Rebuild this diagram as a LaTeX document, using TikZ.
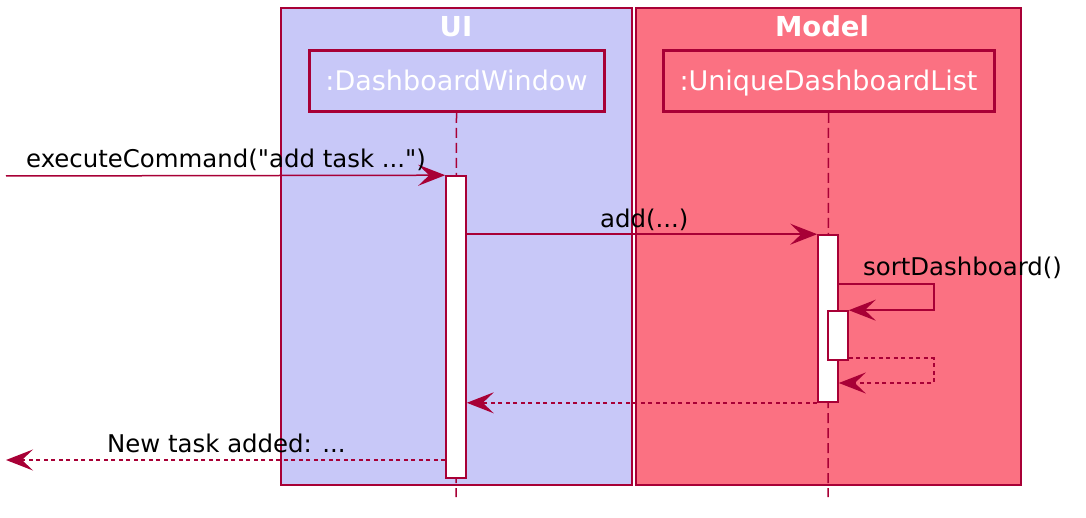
\documentclass[tikz,border=0pt]{standalone}
\usepackage{fontspec}
\setmainfont{DejaVu Sans}[Ligatures=TeXOff]
\usetikzlibrary{arrows.meta}
\definecolor{bord}{HTML}{A80036}
\definecolor{uifill}{HTML}{C8C8F8}
\definecolor{modelfill}{HTML}{FB7182}
\tikzset{
  grp/.style={draw=bord, line width=1.8pt},
  partbox/.style={draw=bord, line width=3pt, minimum height=61pt, inner sep=0pt,
    text=white, font=\fontsize{27}{32}\selectfont, text height=20pt, text depth=0pt},
  grptitle/.style={text=white, font=\fontsize{27.5}{32}\selectfont\bfseries, anchor=base, inner sep=0pt},
  lifeline/.style={draw=bord, line width=1.5pt, dash pattern=on 10pt off 5pt},
  actbar/.style={draw=bord, fill=white, line width=1.6pt, minimum width=20pt, inner sep=0pt},
  msg/.style={draw=bord, line width=1.5pt, -{Stealth[length=27pt, width=21pt, inset=11pt]}},
  ret/.style={msg, dash pattern=on 4pt off 3.5pt},
  msglabel/.style={font=\fontsize{24.4}{29}\selectfont, anchor=base west, inner sep=0pt, text=black},
}
\begin{document}
\begin{tikzpicture}[x=1pt, y=-1pt]
\useasboundingbox (0,0) rectangle (1086,518);
% group boxes
\fill[uifill] (281,8) rectangle (632,485);
\fill[modelfill] (636,8) rectangle (1021,485);
\draw[grp] (281,8) rectangle (632,485);
\draw[grp] (636,8) rectangle (1021,485);
\node[grptitle] (uititle) at (456,37) {UI};
\node[grptitle] (modeltitle) at (822,37) {Model};
% participants
\node[partbox, minimum width=295pt] (dw) at (456.5,81) {:DashboardWindow};
\node[partbox, minimum width=331pt] (udl) at (828.5,81) {:UniqueDashboardList};
% lifelines
\coordinate (dwend) at (456,497);
\coordinate (udlend) at (828,497);
\draw[lifeline] (dw.south) -- (dwend);
\draw[lifeline] (udl.south) -- (udlend);
% activation bars
\node[actbar, minimum height=302pt] (actUI) at (456,327) {};
\node[actbar, minimum height=167pt] (actM) at (828,318.5) {};
\node[actbar, minimum height=49pt] (actN) at (838,335.5) {};
% helper coordinates
\coordinate (in) at (6,176);
\coordinate (out) at (6,460);
\coordinate (ysort) at (0,284);
\coordinate (yret) at (0,358);
\coordinate (yback) at (0,383);
\coordinate (yfin) at (0,460);
% messages
\draw[msg] (in) -- (actUI.north west);
\node[msglabel] (l1) at (26,168) {executeCommand("add task ...")};
\draw[msg] (actUI.east |- actM.north) -- (actM.north west);
\node[msglabel] (l2) at (600,228) {add(...)};
\draw[msg] (actM.east |- ysort) -- ++(95,0) |- (actN.north east);
\node[msglabel] (l3) at (863,276) {sortDashboard()};
\draw[ret] (actN.east |- yret) -- ++(85,0) |- (actM.east |- yback);
\draw[ret] (actM.south west) -- (actUI.east |- actM.south);
\draw[ret] (actUI.west |- yfin) -- (out);
\node[msglabel] (l4) at (107,452) {New task added: ...};
\end{tikzpicture}
\end{document}
